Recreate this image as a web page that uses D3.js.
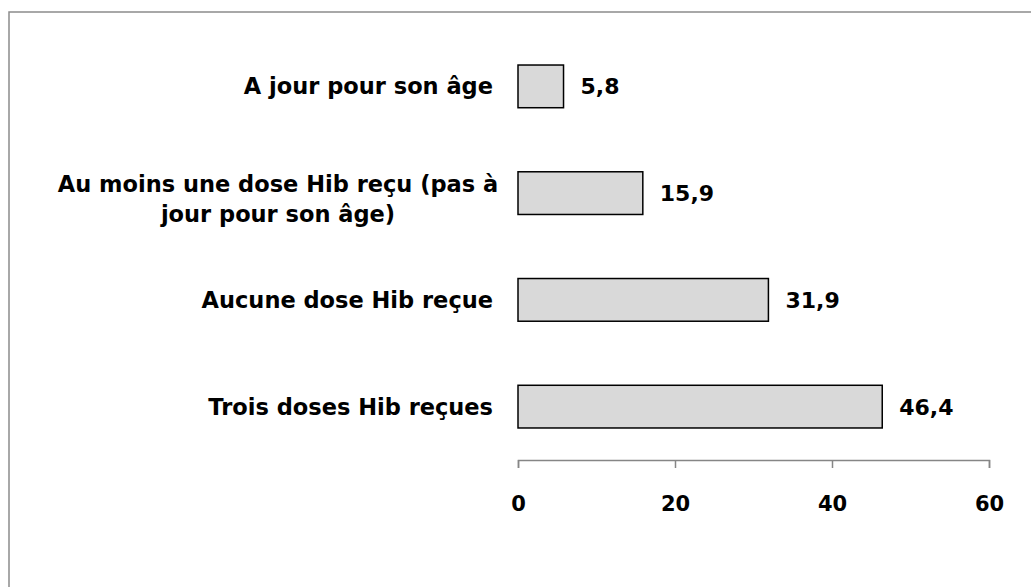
<!DOCTYPE html>
<html>
<head>
<meta charset="utf-8">
<script src="https://cdn.jsdelivr.net/npm/d3@7"></script>
<style>
  body { margin: 0; background: white; }
  svg text { font-family: "DejaVu Sans", sans-serif; font-weight: bold; fill: black; }
</style>
</head>
<body>
<div id="chart"></div>
<script>
// categories from top to bottom, each one split into its lines
let categories = [
	["A jour pour son âge"],
	["Au moins une dose Hib reçu (pas à", "jour pour son âge)"],
	["Aucune dose Hib reçue"],
	["Trois doses Hib reçues"]
];
let values = [5.8, 15.9, 31.9, 46.4];
let valueLabels = ["5,8", "15,9", "31,9", "46,4"];
let xTicks = [0, 20, 40, 60];

let width = 1031;
let height = 587;

let margin = {
	top: 33,
	right: 42,
	bottom: 127,
	left: 518
};

let svg = d3.select("#chart")
			.append("svg")
			.attr("width", width)
			.attr("height", height);

svg.append("rect")
	.attr("width", width)
	.attr("height", height)
	.attr("fill", "white");

// outer frame, only its top and left edges are inside the picture
svg.append("rect")
	.attr("x", 9)
	.attr("y", 12)
	.attr("width", width + 10)
	.attr("height", height + 10)
	.attr("fill", "none")
	.attr("stroke", "#8c8c8c")
	.attr("stroke-width", 1.5);

let xScale = d3.scaleLinear()
				.domain([0, 60])
				.range([margin.left, width - margin.right]);

let yScale = d3.scaleBand()
				.domain(d3.range(categories.length))
				.range([margin.top, height - margin.bottom])
				.paddingInner(0.6)
				.paddingOuter(0.3);

let axis = svg.append("g")
	.attr("transform", `translate(0,${height - margin.bottom})`)
	.call(d3.axisBottom(xScale).tickValues(xTicks).tickSize(8).tickPadding(28));

axis.select(".domain").attr("stroke", "#868686").attr("stroke-width", 1.5);
axis.selectAll(".tick line").attr("stroke", "#868686").attr("stroke-width", 1.5);
axis.selectAll(".tick text")
	.attr("font-size", 21)
	.attr("font-family", null);

svg.selectAll("rect.bar")
	.data(values)
	.enter()
	.append("rect")
	.attr("class", "bar")
	.attr("x", xScale(0))
	.attr("y", (d, i) => yScale(i))
	.attr("width", d => xScale(d) - xScale(0))
	.attr("height", yScale.bandwidth())
	.attr("fill", "#d9d9d9")
	.attr("stroke", "black")
	.attr("stroke-width", 1.5);

svg.selectAll("text.value")
	.data(values)
	.enter()
	.append("text")
	.attr("class", "value")
	.attr("x", d => xScale(d) + 17)
	.attr("y", (d, i) => yScale(i) + yScale.bandwidth() / 2)
	.attr("dy", "0.36em")
	.attr("font-size", 22)
	.text((d, i) => valueLabels[i]);

let labels = svg.selectAll("text.cat")
	.data(categories)
	.enter()
	.append("text")
	.attr("class", "cat")
	.attr("font-size", 22.5)
	.attr("text-anchor", d => d.length > 1 ? "middle" : "end")
	.attr("x", d => d.length > 1 ? 278 : 493)
	.attr("y", (d, i) => yScale(i) + yScale.bandwidth() / 2);

labels.selectAll("tspan")
	.data(d => d.map((line, k) => ({line: line, k: k, n: d.length})))
	.enter()
	.append("tspan")
	.attr("x", function() { return d3.select(this.parentNode).attr("x"); })
	.attr("dy", d => d.k === 0 ? (0.36 - (d.n - 1) * 0.4) + "em" : "1.33em")
	.text(d => d.line);
</script>
</body>
</html>
